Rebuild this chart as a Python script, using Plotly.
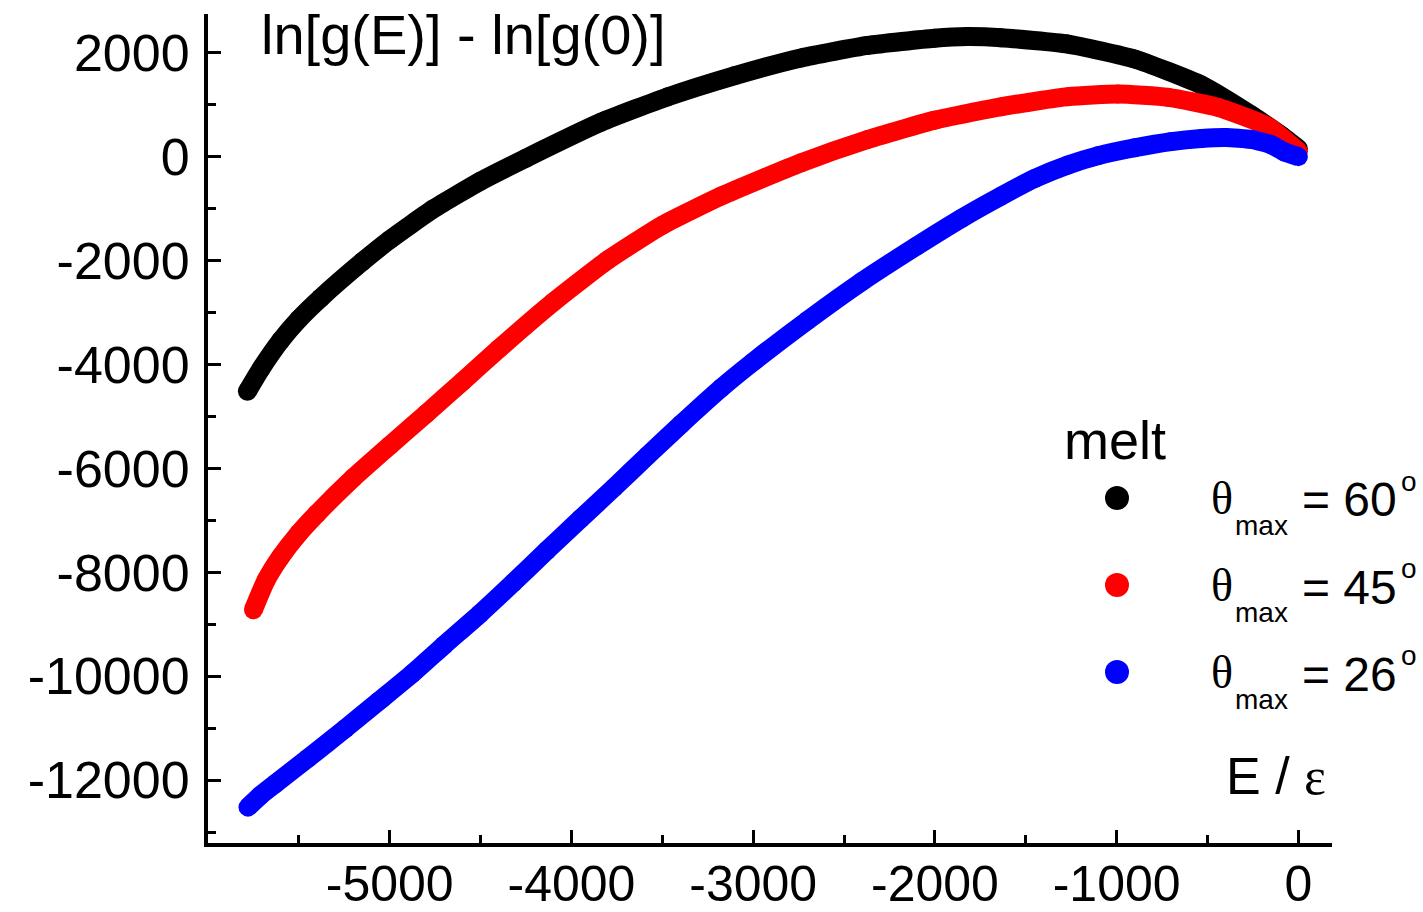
import plotly.graph_objects as go

# ---- data ----
black_x = [-5783, -5708, -5600, -5500, -5380, -5150, -5000, -4757, -4500, -4251, -3838, -3471, -3100,
           -2737, -2370, -2003, -1820, -1636, -1268, -901, -534, -259, -100, 0]
black_y = [-4516, -4080, -3540, -3130, -2720, -2020, -1600, -1000, -470, -30, 660, 1150, 1560,
           1900, 2140, 2280, 2310, 2289, 2167, 1879, 1378, 800, 420, 150]

red_x = [-5750, -5680, -5600, -5500, -5400, -5200, -5000, -4800, -4600, -4400, -4100, -3800,
         -3500, -3177, -2737, -2370, -2003, -1636, -1268, -993, -717, -442, -166, 0]
red_y = [-8720, -8150, -7700, -7250, -6870, -6180, -5560, -4950, -4330, -3700, -2800, -1990,
         -1320, -760, -120, 330, 700, 960, 1154, 1205, 1141, 949, 576, 100]

blue_x = [-5780, -5710, -5630, -5450, -5245, -5060, -4876, -4700, -4504, -4320, -4135, -3950,
          -3766, -3580, -3397, -3175, -3000, -2700, -2400, -2100, -1850, -1636, -1450, -1268,
          -1100, -901, -700, -534, -400, -259, -150, -76, 0]
blue_y = [-12520, -12290, -12070, -11580, -11010, -10480, -9950, -9400, -8800, -8200, -7580, -6970,
          -6370, -5750, -5150, -4450, -3950, -3150, -2400, -1720, -1180, -760, -420, -160,
          20, 170, 290, 350, 370, 330, 230, 90, 0]

series_names = ["60", "45", "26"]
series_colors = ["#000000", "#ff0000", "#0000ff"]

x_tickvals = [-5000, -4000, -3000, -2000, -1000, 0]
x_ticktext = ["-5000", "-4000", "-3000", "-2000", "-1000", "0"]
y_tickvals = [-12000, -10000, -8000, -6000, -4000, -2000, 0, 2000]
y_ticktext = ["-12000", "-10000", "-8000", "-6000", "-4000", "-2000", "0", "2000"]

FONT = "Liberation Sans, Arial, sans-serif"
SERIF = "Liberation Serif, Times New Roman, serif"

fig = go.Figure()
for xs, ys, col, nm in [(black_x, black_y, series_colors[0], series_names[0]),
                        (red_x, red_y, series_colors[1], series_names[1]),
                        (blue_x, blue_y, series_colors[2], series_names[2])]:
    fig.add_trace(go.Scatter(
        x=xs, y=ys, mode="lines+markers", name=nm,
        line=dict(color=col, width=19, shape="spline", smoothing=0.5),
        marker=dict(color=col, size=19, line=dict(width=0)),
        showlegend=False, hoverinfo="skip"))

axis_common = dict(
    showline=True, linecolor="black", linewidth=4, mirror=False,
    showgrid=False, zeroline=False, automargin=False,
    ticks="inside", ticklen=13, tickwidth=3, tickcolor="black",
)

fig.update_xaxes(range=[-6000, 185], tickmode="array", tickvals=x_tickvals, ticktext=x_ticktext,
                 minor=dict(dtick=500, tick0=0, ticks="inside", ticklen=8, tickwidth=3, tickcolor="black"),
                 ticklabelstandoff=-6, tickfont=dict(family=FONT, size=50, color="black"), **axis_common)
fig.update_yaxes(range=[-13210, 2745], tickmode="array", tickvals=y_tickvals, ticktext=y_ticktext,
                 minor=dict(dtick=1000, tick0=0, ticks="inside", ticklen=8, tickwidth=3, tickcolor="black"),
                 ticklabelstandoff=4, tickfont=dict(family=FONT, size=52, color="black"), **axis_common)

L, R, T, B = 208, 1332, 14, 843
fig.update_layout(
    width=1423, height=912,
    margin=dict(l=L, r=1423 - R, t=T, b=912 - B),
    paper_bgcolor="white", plot_bgcolor="white",
    showlegend=False,
)

def px(xp):
    return (xp - L) / (R - L)
def py(yp):
    return (B - yp) / (B - T)

ann = []
ann.append(dict(text="ln[g(E)] - ln[g(0)]", x=px(259), y=py(34), xref="paper", yref="paper",
                xanchor="left", yanchor="middle", showarrow=False,
                font=dict(family=FONT, size=56, color="black")))
ann.append(dict(text="E / <span style='font-family:Liberation Serif'>ε</span>", x=px(1328), y=py(776),
                xref="paper", yref="paper", xanchor="right", yanchor="middle", showarrow=False,
                font=dict(family=FONT, size=52, color="black")))
ann.append(dict(text="melt", x=px(1062), y=py(440), xref="paper", yref="paper", xanchor="left",
                yanchor="middle", showarrow=False, font=dict(family=FONT, size=54, color="black")))

rows_y = [498, 585, 672]
shapes = []
for i, (nm, col) in enumerate(zip(series_names, series_colors)):
    yc = rows_y[i]
    shapes.append(dict(type="circle", xref="paper", yref="paper",
                       x0=px(1105), x1=px(1129), y0=py(yc + 12), y1=py(yc - 12),
                       fillcolor=col, line=dict(width=0)))
    ann.append(dict(text="θ", x=px(1209), y=py(yc), xref="paper", yref="paper", xanchor="left",
                    yanchor="middle", showarrow=False, font=dict(family=SERIF, size=46, color="black")))
    ann.append(dict(text="max", x=px(1233), y=py(yc + 27), xref="paper", yref="paper", xanchor="left",
                    yanchor="middle", showarrow=False, font=dict(family=FONT, size=28, color="black")))
    ann.append(dict(text="= " + nm, x=px(1300), y=py(yc + 2), xref="paper", yref="paper", xanchor="left",
                    yanchor="middle", showarrow=False, font=dict(family=FONT, size=48, color="black")))
    ann.append(dict(text="o", x=px(1399), y=py(yc - 17), xref="paper", yref="paper", xanchor="left",
                    yanchor="middle", showarrow=False, font=dict(family=FONT, size=28, color="black")))

fig.update_layout(annotations=ann, shapes=shapes)
fig.write_html("out.html", config={"displayModeBar": False},
               post_script="document.body.style.margin='0';document.body.style.overflow='hidden';")
